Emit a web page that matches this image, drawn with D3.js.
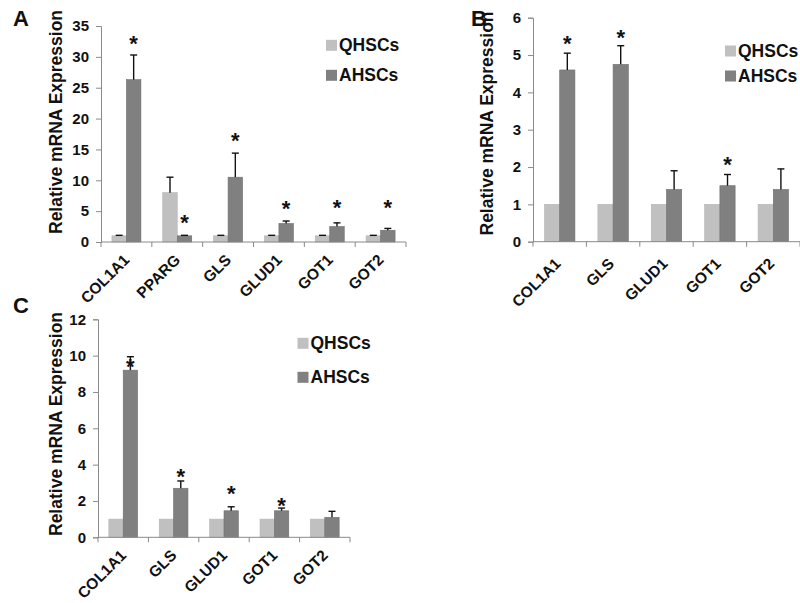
<!DOCTYPE html>
<html>
<head>
<meta charset="utf-8">
<script src="https://cdn.jsdelivr.net/npm/d3@7"></script>
<style>
  body { margin: 0; background: #fff; }
  svg { display: block; font-family: "Liberation Sans", Arial, sans-serif; font-weight: bold; }
</style>
</head>
<body>
<svg id="chart" width="800" height="603"></svg>
<script>
const groups = ["QHSCs", "AHSCs"];

// panel A
const genesA = ["COL1A1", "PPARG", "GLS", "GLUD1", "GOT1", "GOT2"];
const qhscA = [1, 8, 1, 1, 1, 1];
const qhscErrA = [0.08, 2.5, 0.08, 0.08, 0.08, 0.08];
const ahscA = [26.3, 1, 10.5, 3, 2.5, 1.9];
const ahscErrA = [4.0, 0.08, 3.9, 0.4, 0.6, 0.3];
const starsA = [32.9, 3.9, 17.2, 6.2, 6.3, 6.3];
const ticksA = [0, 5, 10, 15, 20, 25, 30, 35];

// panel B
const genesB = ["COL1A1", "GLS", "GLUD1", "GOT1", "GOT2"];
const qhscB = [1, 1, 1, 1, 1];
const qhscErrB = [0, 0, 0, 0, 0];
const ahscB = [4.6, 4.75, 1.4, 1.5, 1.4];
const ahscErrB = [0.45, 0.5, 0.5, 0.3, 0.55];
const starsB = [5.43, 5.6, null, 2.2, null];
const ticksB = [0, 1, 2, 3, 4, 5, 6];

// panel C
const genesC = ["COL1A1", "GLS", "GLUD1", "GOT1", "GOT2"];
const qhscC = [1, 1, 1, 1, 1];
const qhscErrC = [0, 0, 0, 0, 0];
const ahscC = [9.2, 2.7, 1.46, 1.46, 1.1];
const ahscErrC = [0.74, 0.4, 0.22, 0.15, 0.33];
const starsC = [9.67, 3.6, 2.66, 2.0, null];
const ticksC = [0, 2, 4, 6, 8, 10, 12];

const colors = {QHSCs: "#c0c0c0", AHSCs: "#808080"};
const strokes = {QHSCs: "#b4b4b4", AHSCs: "#6e6e6e"};
const axisColor = "#8a8a8a";

const svg = d3.select("#chart");

function drawPanel(p) {
    const g = svg.append("g");

    const x = d3.scaleBand()
        .domain(p.genes)
        .range([p.left, p.right])
        .paddingInner(0.43)
        .paddingOuter(0.215);
    const xSub = d3.scaleBand().domain(groups).range([0, x.bandwidth()]);
    const y = d3.scaleLinear()
        .domain([0, d3.max(p.ticks)])
        .range([p.bottom, p.top]);

    const rows = p.genes.map((gene, i) => ({
        gene: gene,
        star: p.stars[i],
        bars: [
            {group: "QHSCs", value: p.q[i], err: p.qErr[i]},
            {group: "AHSCs", value: p.a[i], err: p.aErr[i]}
        ]
    }));

    // bars
    const cat = g.selectAll("g.cat")
        .data(rows)
        .enter().append("g")
            .attr("class", "cat")
            .attr("transform", d => `translate(${x(d.gene)},0)`);

    cat.selectAll("rect")
        .data(d => d.bars)
        .enter().append("rect")
            .attr("x", d => xSub(d.group))
            .attr("y", d => y(d.value))
            .attr("width", xSub.bandwidth())
            .attr("height", d => y(0) - y(d.value))
            .attr("fill", d => colors[d.group])
            .attr("stroke", d => strokes[d.group])
            .attr("stroke-width", 0.6);

    // error bars
    const errs = cat.selectAll("g.err")
        .data(d => d.bars.filter(b => b.err > 0))
        .enter().append("g")
            .attr("class", "err")
            .attr("transform", d => `translate(${xSub(d.group) + xSub.bandwidth() / 2},0)`);
    errs.append("line")
        .attr("x1", 0).attr("x2", 0)
        .attr("y1", d => y(d.value))
        .attr("y2", d => y(d.value + d.err))
        .attr("stroke", "#111")
        .attr("stroke-width", 1.4);
    errs.append("line")
        .attr("x1", -3.5).attr("x2", 3.5)
        .attr("y1", d => y(d.value + d.err))
        .attr("y2", d => y(d.value + d.err))
        .attr("stroke", "#111")
        .attr("stroke-width", 1.4);

    // asterisks
    cat.filter(d => d.star != null)
        .append("text")
            .attr("x", xSub("AHSCs") + xSub.bandwidth() / 2)
            .attr("y", d => y(d.star) + 12)
            .attr("text-anchor", "middle")
            .style("font-size", "22px")
            .attr("fill", "#111")
            .text("*");

    // y axis
    const yAxis = d3.axisLeft(y)
        .tickValues(p.ticks)
        .tickSize(5)
        .tickPadding(7)
        .tickFormat(d3.format("d"));
    const ya = g.append("g")
        .attr("transform", `translate(${p.left},0)`)
        .call(yAxis);
    ya.select(".domain").attr("stroke", axisColor);
    ya.selectAll(".tick line").attr("stroke", axisColor);
    ya.selectAll(".tick text")
        .attr("fill", "#111")
        .style("font-size", "15px")
        .style("font-family", "'Liberation Sans', Arial, sans-serif")
        .style("font-weight", "bold");

    // x axis line and ticks at category boundaries
    g.append("line")
        .attr("x1", p.left).attr("x2", p.right)
        .attr("y1", y(0)).attr("y2", y(0))
        .attr("stroke", axisColor);
    g.selectAll("line.xtick")
        .data(d3.range(p.genes.length + 1))
        .enter().append("line")
            .attr("class", "xtick")
            .attr("x1", i => p.left + i * x.step())
            .attr("x2", i => p.left + i * x.step())
            .attr("y1", y(0))
            .attr("y2", y(0) + 5)
            .attr("stroke", axisColor);

    // x labels
    g.selectAll("text.xlab")
        .data(p.genes)
        .enter().append("text")
            .attr("class", "xlab")
            .attr("transform", d => `translate(${x(d) + x.bandwidth() / 2 + p.labDx},${y(0) + p.labDy}) rotate(-45)`)
            .attr("text-anchor", "end")
            .style("font-size", "15.5px")
            .attr("fill", "#111")
            .text(d => d);

    // y title
    g.append("text")
        .attr("transform", `translate(${p.titleX},${p.titleY}) rotate(-90)`)
        .attr("text-anchor", "middle")
        .style("font-size", "17.5px")
        .attr("fill", "#111")
        .text("Relative mRNA Expression");

    // panel letter
    g.append("text")
        .attr("x", p.letterX)
        .attr("y", p.letterY)
        .style("font-size", "22px")
        .attr("fill", "#111")
        .text(p.letter);

    // legend
    const legend = g.append("g");
    legend.selectAll("rect")
        .data(groups)
        .enter().append("rect")
            .attr("x", p.legX)
            .attr("y", (_, i) => p.legY + i * p.legGap - 5.5)
            .attr("width", 11)
            .attr("height", 11)
            .attr("fill", d => colors[d]);
    legend.selectAll("text")
        .data(groups)
        .enter().append("text")
            .attr("x", p.legX + 13)
            .attr("y", (_, i) => p.legY + i * p.legGap + 6)
            .style("font-size", "17.5px")
            .attr("fill", "#111")
            .text(d => d);
}

drawPanel({
    letter: "A", letterX: 13, letterY: 26,
    genes: genesA, q: qhscA, qErr: qhscErrA, a: ahscA, aErr: ahscErrA, stars: starsA, ticks: ticksA,
    left: 101, right: 406, top: 26, bottom: 242,
    labDx: 4, labDy: 19,
    titleX: 62, titleY: 122,
    legX: 326, legY: 45.3, legGap: 30
});

drawPanel({
    letter: "B", letterX: 471, letterY: 26,
    genes: genesB, q: qhscB, qErr: qhscErrB, a: ahscB, aErr: ahscErrB, stars: starsB, ticks: ticksB,
    left: 533, right: 800, top: 17.7, bottom: 241.7,
    labDx: 2, labDy: 23,
    titleX: 493, titleY: 123.5,
    legX: 725, legY: 51, legGap: 25
});

drawPanel({
    letter: "C", letterX: 13, letterY: 313,
    genes: genesC, q: qhscC, qErr: qhscErrC, a: ahscC, aErr: ahscErrC, stars: starsC, ticks: ticksC,
    left: 98, right: 350, top: 319.3, bottom: 537.3,
    labDx: 4, labDy: 19,
    titleX: 62, titleY: 424,
    legX: 297.5, legY: 343.3, legGap: 34
});
</script>
</body>
</html>
